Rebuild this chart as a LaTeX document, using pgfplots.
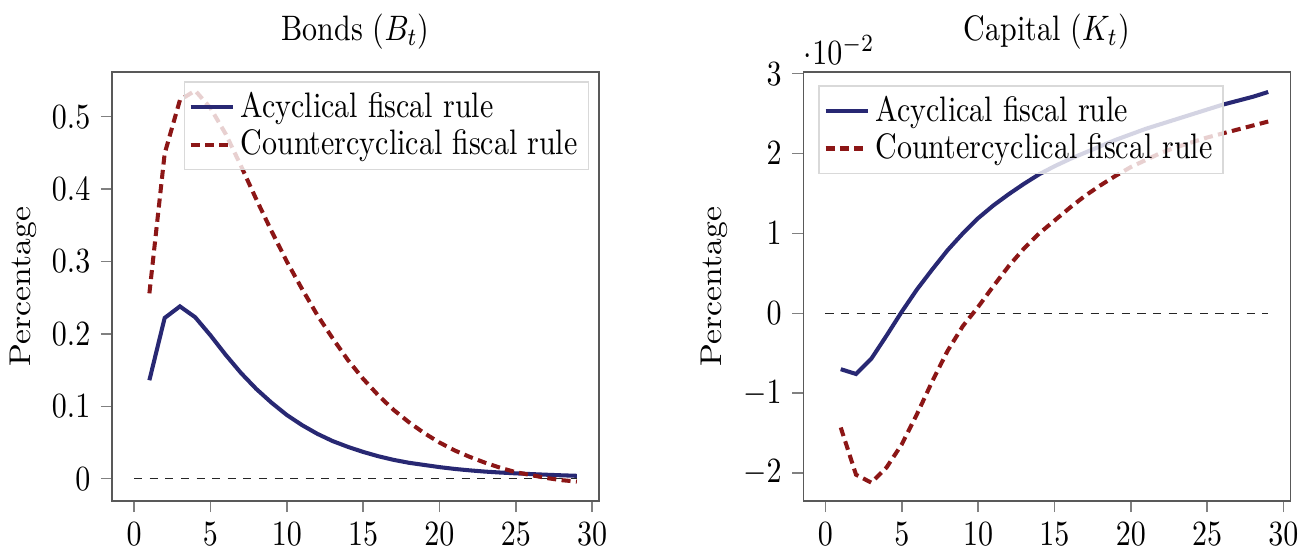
\documentclass[border=0pt]{standalone}
\usepackage{pgfplots}
\pgfplotsset{compat=1.18}
\definecolor{acyc}{RGB}{40,40,115}
\definecolor{cntr}{RGB}{140,22,22}
\newcommand{\ts}[1]{\scalebox{1}[1.18]{#1}}
\pgfplotsset{
  irf/.style={
    scale only axis,
    width=162.33pt, height=143pt,
    xmin=-1.45, xmax=30.45,
    xtick={0,5,10,15,20,25,30},
    tick align=outside, xtick pos=bottom, ytick pos=left,
    major tick length=3.7pt,
    axis line style={draw=black!65},
    tick style={draw=black!50, line width=0.5pt},
    xticklabel={\ts{$\pgfmathprintnumber{\tick}$}},
    yticklabel={\ts{$\pgfmathprintnumber{\tick}$}},
    every axis title/.style={at={(0.5,1)}, anchor=south, yshift=4pt, font=\normalsize},
    ylabel={\scalebox{1.12}[1]{Percentage}},
    ylabel style={at={(axis description cs:0,0.5)}, anchor=south, yshift=25pt, inner sep=0pt},
    legend cell align=left,
    legend image code/.code={\draw[##1] (0pt,0pt) -- (14pt,0pt);},
    ytick scale label code/.code={\ts{$\cdot 10^{##1}$}},
    every y tick scale label/.append style={xshift=-3pt, yshift=-2pt},
  },
  leg/.style={fill=white, fill opacity=0.8, draw opacity=1, text opacity=1, draw=black!15, inner sep=1.5pt, row sep=-1.5pt},
}
\begin{document}
\begin{tikzpicture}
\path[use as bounding box] (0,0) rectangle (436.67pt,183pt);
\begin{axis}[irf, at={(37.33pt,16pt)}, anchor=south west,
  title={\ts{Bonds ($B_t$)}},
  ymin=-0.0308, ymax=0.5617,
  ytick={0,0.1,0.2,0.3,0.4,0.5},
  legend style={leg, at={(0.979,0.978)}, anchor=north east},
]
\addplot[black!85, line width=0.45pt, dash pattern=on 2.7pt off 2.5pt, forget plot] coordinates {(0,0) (29,0)};
\addplot[acyc, line width=1.35pt] coordinates {
(1,0.136) (2,0.222) (3,0.238) (4,0.223) (5,0.198) (6,0.171) (7,0.146) (8,0.124) (9,0.105) (10,0.088)
(11,0.074) (12,0.062) (13,0.052) (14,0.044) (15,0.037) (16,0.031) (17,0.026) (18,0.022) (19,0.019) (20,0.016)
(21,0.0135) (22,0.0115) (23,0.0098) (24,0.0085) (25,0.0074) (26,0.0064) (27,0.0055) (28,0.0047) (29,0.0040)};
\addlegendentry{\ts{Acyclical fiscal rule}}
\addplot[cntr, line width=1.35pt, dash pattern=on 3pt off 1.8pt] coordinates {
(1,0.256) (2,0.449) (3,0.523) (4,0.536) (5,0.512) (6,0.476) (7,0.432) (8,0.386) (9,0.342) (10,0.300)
(11,0.262) (12,0.226) (13,0.194) (14,0.164) (15,0.138) (16,0.115) (17,0.095) (18,0.078) (19,0.063) (20,0.050)
(21,0.039) (22,0.030) (23,0.022) (24,0.015) (25,0.009) (26,0.005) (27,0.001) (28,-0.002) (29,-0.004)};
\addlegendentry{\ts{Countercyclical fiscal rule}}
\end{axis}
\begin{axis}[irf, at={(267.78pt,16pt)}, anchor=south west,
  title={\ts{Capital ($K_t$)}},
  ymin=-0.0235, ymax=0.0302,
  ytick={-0.02,-0.01,0,0.01,0.02,0.03},
  scaled y ticks=base 10:2,
  legend style={leg, at={(0.031,0.969)}, anchor=north west},
]
\addplot[black!85, line width=0.45pt, dash pattern=on 2.7pt off 2.5pt, forget plot] coordinates {(0,0) (29,0)};
\addplot[acyc, line width=1.35pt] coordinates {
(1,-0.0070) (2,-0.0076) (3,-0.0057) (4,-0.0028) (5,0.0002) (6,0.0030) (7,0.0055) (8,0.0079) (9,0.0100) (10,0.0119)
(11,0.0135) (12,0.0149) (13,0.0162) (14,0.0174) (15,0.0184) (16,0.0193) (17,0.0201) (18,0.0209) (19,0.0217) (20,0.0224)
(21,0.0231) (22,0.0237) (23,0.0243) (24,0.0249) (25,0.0255) (26,0.0261) (27,0.0266) (28,0.0271) (29,0.0277)};
\addlegendentry{\ts{Acyclical fiscal rule}}
\addplot[cntr, line width=1.35pt, dash pattern=on 3pt off 1.8pt] coordinates {
(1,-0.0143) (2,-0.0202) (3,-0.0212) (4,-0.0193) (5,-0.0164) (6,-0.0126) (7,-0.0085) (8,-0.0047) (9,-0.0016) (10,0.0008)
(11,0.0034) (12,0.0059) (13,0.0081) (14,0.0100) (15,0.0116) (16,0.0132) (17,0.0147) (18,0.0160) (19,0.0172) (20,0.0183)
(21,0.0192) (22,0.0201) (23,0.0208) (24,0.0214) (25,0.0220) (26,0.0225) (27,0.0230) (28,0.0235) (29,0.0240)};
\addlegendentry{\ts{Countercyclical fiscal rule}}
\end{axis}
\end{tikzpicture}
\end{document}
